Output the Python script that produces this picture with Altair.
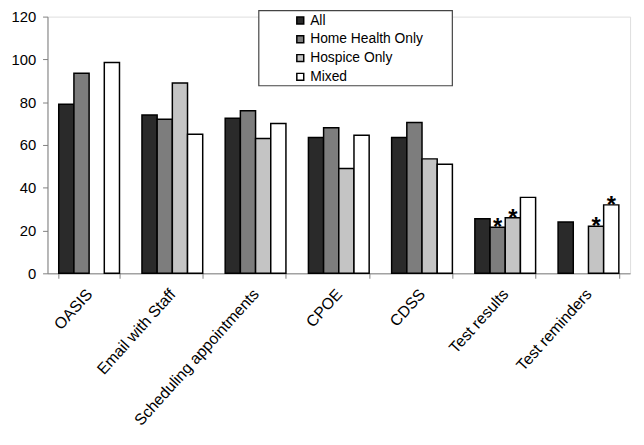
import altair as alt
import pandas as pd

categories = ["OASIS", "Email with Staff", "Scheduling appointments", "CPOE",
              "CDSS", "Test results", "Test reminders"]
series = ["All", "Home Health Only", "Hospice Only", "Mixed"]
all_vals = [79, 74, 72.5, 63.5, 63.5, 25.5, 24]
hh_vals = [93.5, 72, 76, 68, 70.5, 21.5, None]
hospice_vals = [None, 89, 63, 49, 53.5, 26, 22]
mixed_vals = [98.5, 65, 70, 64.5, 51, 35.5, 32]
all_star = [False, False, False, False, False, False, False]
hh_star = [False, False, False, False, False, True, False]
hospice_star = [False, False, False, False, False, True, True]
mixed_star = [False, False, False, False, False, False, True]

colors = ["#2a2a2a", "#7d7d7d", "#c4c4c4", "#ffffff"]

rows = []
for s, vals, stars in zip(series, [all_vals, hh_vals, hospice_vals, mixed_vals],
                          [all_star, hh_star, hospice_star, mixed_star]):
    for c, v, st in zip(categories, vals, stars):
        if v is not None:
            rows.append({"category": c, "series": s, "value": v, "star": st})
df = pd.DataFrame(rows)

FONT = "Liberation Sans"

x_enc = alt.X("category:N", sort=categories,
              scale=alt.Scale(paddingInner=0.27, paddingOuter=0.135),
              axis=alt.Axis(title=None, labelAngle=-48, labelAlign="right",
                            labelBaseline="middle", tickBand="extent",
                            tickSize=5, labelPadding=13, labelFontSize=16,
                            labelColor="black", domainColor="#808080",
                            tickColor="#808080", labelFont=FONT))
xoff = alt.XOffset("series:N", sort=series,
                   scale=alt.Scale(domain=series, paddingInner=0, paddingOuter=0))
y_enc = alt.Y("value:Q", scale=alt.Scale(domain=[0, 120]),
              axis=alt.Axis(title=None, values=[0, 20, 40, 60, 80, 100, 120],
                            grid=False, tickSize=5, labelPadding=7,
                            labelFontSize=15, labelColor="black",
                            domainColor="#808080", tickColor="#808080",
                            labelFont=FONT))

box = alt.Chart(alt.Data(values=[{}])).mark_rect(
    fill="white", stroke="#444444", strokeWidth=1.2
).encode(x=alt.value(214), x2=alt.value(410), y=alt.value(-6), y2=alt.value(70))

bars = alt.Chart(df).mark_bar(stroke="black", strokeWidth=1.5).encode(
    x=x_enc, xOffset=xoff, y=y_enc,
    color=alt.Color("series:N", sort=series,
                    scale=alt.Scale(domain=series, range=colors),
                    legend=alt.Legend(title=None, orient="none", legendX=249,
                                      legendY=-3, symbolType="square",
                                      symbolSize=49, symbolStrokeColor="black",
                                      symbolStrokeWidth=1.5, labelFontSize=14,
                                      labelFont=FONT, labelColor="black",
                                      rowPadding=5, labelOffset=3, padding=0))
)

stars = alt.Chart(df).transform_filter("datum.star").mark_text(
    text="*", fontSize=24, fontWeight="bold", baseline="alphabetic", dy=8,
    font=FONT, color="black"
).encode(x=x_enc, xOffset=xoff, y=y_enc)

chart = alt.layer(box, bars, stars).properties(
    width=590, height=260, autosize="none",
    padding={"left": 40, "top": 6, "right": 6, "bottom": 160}
).configure_view(stroke=None).configure(background="white")

chart.save("out.html", embed_options={"renderer": "svg", "actions": False})
